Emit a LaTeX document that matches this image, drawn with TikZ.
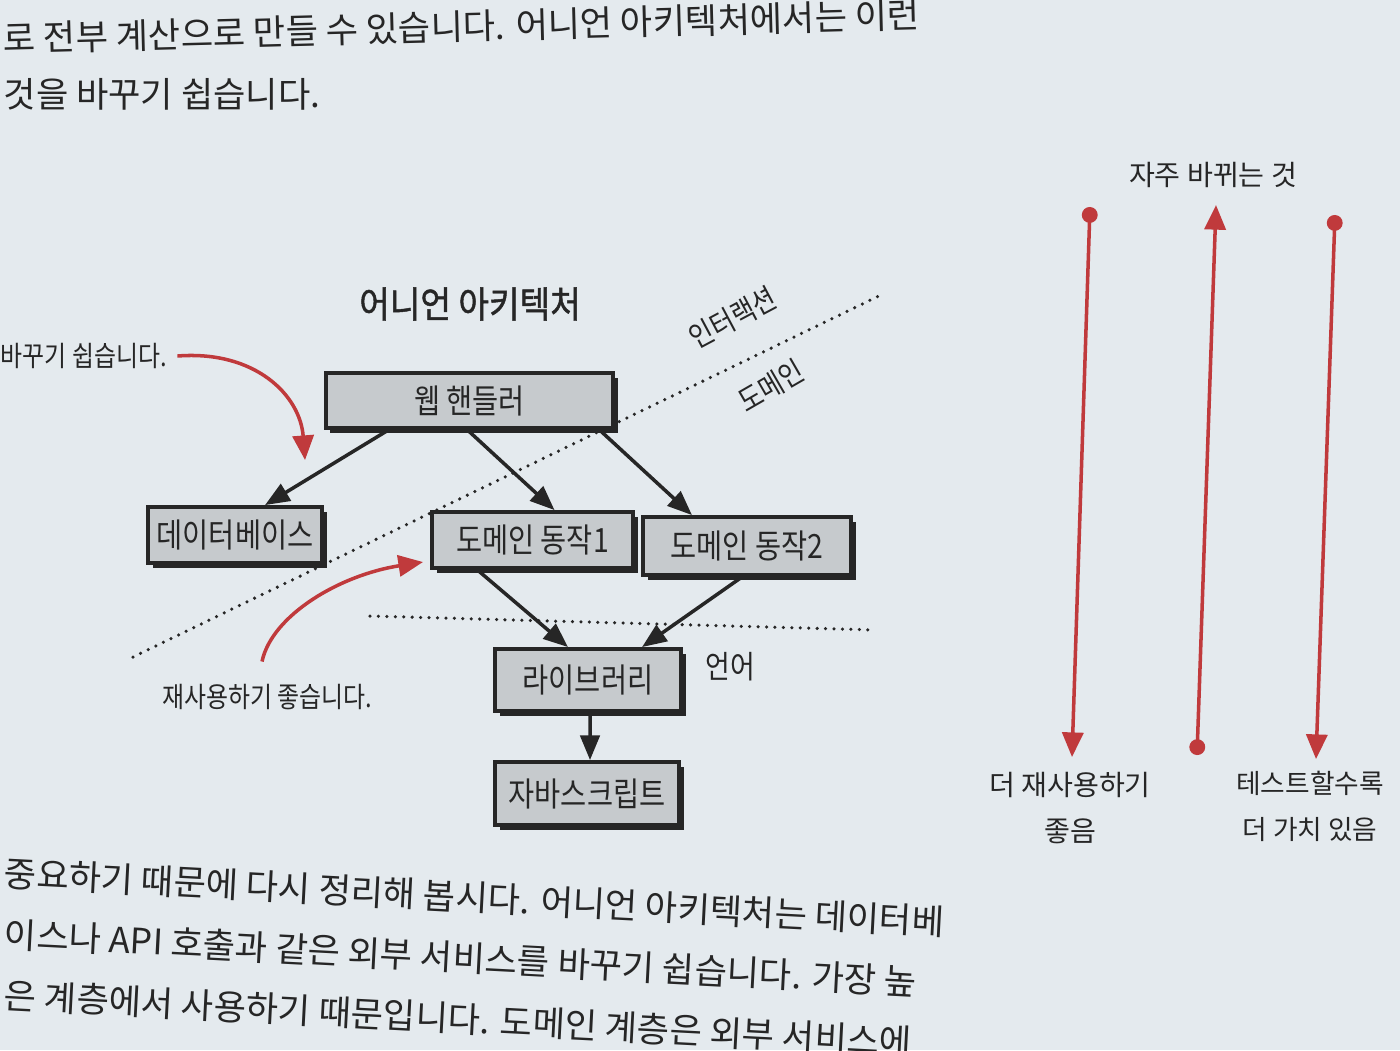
\documentclass[tikz,border=0pt]{standalone}
\usepackage{fontspec}
\setmainfont{Noto Sans CJK KR}
\newfontfamily\condfont[FakeStretch=0.85]{Noto Sans CJK KR}
\newfontfamily\titlefont[FakeStretch=0.9,FakeBold=1.2]{Noto Sans CJK KR}
\usetikzlibrary{arrows.meta,shadows}
\definecolor{paper}{HTML}{E4EAEE}
\definecolor{ink}{HTML}{262626}
\definecolor{boxfill}{HTML}{C6CACD}
\definecolor{redline}{HTML}{C03A3C}
\begin{document}
\begin{tikzpicture}[x=0.01cm,y=-0.01cm,
  bodytext/.style={anchor=base west, inner sep=0pt, text=ink, font=\fontsize{10}{12}\selectfont},
  boxnode/.style={draw=ink, line width=1.1pt, fill=boxfill, inner sep=0pt, text=ink,
    font=\condfont\fontsize{9.5}{11}\selectfont,
    drop shadow={shadow xshift=1.3pt, shadow yshift=-1.3pt, fill=ink, opacity=1}},
  annot/.style={inner sep=0pt, text=ink, font=\condfont\fontsize{8}{10}\selectfont},
  sidetext/.style={inner sep=0pt, text=ink, font=\fontsize{8}{10}\selectfont},
  blackarrow/.style={draw=ink, line width=1pt, -{Triangle[length=7pt,width=5.5pt]}},
  redarrow/.style={draw=redline, line width=1pt},
  dotline/.style={draw=ink, line width=1pt, dash pattern=on 0pt off 2.4pt, line cap=round}
]
\fill[paper] (0,0) rectangle (1400,1050);
\useasboundingbox (0,0) rectangle (1400,1050);

% page body text
\node[bodytext, rotate=1.5] (t1) at (3,52) {로 전부 계산으로 만들 수 있습니다. 어니언 아키텍처에서는 이런};
\node[bodytext] (t2) at (3,107) {것을 바꾸기 쉽습니다.};
\node[bodytext, rotate=-3] (b1) at (3,886) {중요하기 때문에 다시 정리해 봅시다. 어니언 아키텍처는 데이터베};
\node[bodytext, rotate=-3] (b2) at (3,947) {이스나 API 호출과 같은 외부 서비스를 바꾸기 쉽습니다. 가장 높};
\node[bodytext, rotate=-3] (b3) at (3,1008) {은 계층에서 사용하기 때문입니다. 도메인 계층은 외부 서비스에};

% title
\node[inner sep=0pt, text=ink, font=\titlefont\fontsize{10.5}{13}\selectfont] (title) at (470,304) {어니언 아키텍처};

% dotted separators
\coordinate (d1a) at (133,657);
\coordinate (d1b) at (885,293);
\coordinate (d2a) at (370,616);
\coordinate (d2b) at (876,630);
\draw[dotline] (d1a) -- (d1b);
\draw[dotline] (d2a) -- (d2b);

% boxes
\node[boxnode, minimum width=2.87cm, minimum height=0.55cm] (web) at (469.5,400.5) {웹 핸들러};
\node[boxnode, minimum width=1.74cm, minimum height=0.56cm] (db) at (235,535) {데이터베이스};
\node[boxnode, minimum width=2.01cm, minimum height=0.56cm] (dom1) at (532.5,540) {도메인 동작1};
\node[boxnode, minimum width=2.08cm, minimum height=0.58cm] (dom2) at (747,546) {도메인 동작2};
\node[boxnode, minimum width=1.86cm, minimum height=0.62cm] (lib) at (588,680) {라이브러리};
\node[boxnode, minimum width=1.84cm, minimum height=0.63cm] (js) at (587,793.5) {자바스크립트};

% layer labels
\node[annot, rotate=28, font=\condfont\fontsize{8.5}{10}\selectfont] (interaction) at (733,318) {인터랙션};
\node[annot, rotate=30, font=\condfont\fontsize{8.5}{10}\selectfont] (domain) at (771,386) {도메인};
\node[annot, font=\condfont\fontsize{9}{10}\selectfont] (lang) at (730,667) {언어};

% black arrows
\draw[blackarrow] ([xshift=-0.81cm]web.south) -- ([xshift=0.3cm]db.north);
\draw[blackarrow] ([xshift=-0.02cm]web.south) -- ([xshift=0.22cm]dom1.north);
\draw[blackarrow] ([xshift=1.3cm]web.south) -- ([xshift=-0.55cm]dom2.north);
\draw[blackarrow] ([xshift=-0.55cm]dom1.south) -- ([xshift=-0.2cm]lib.north);
\draw[blackarrow] ([xshift=-0.05cm]dom2.south) -- ([xshift=0.54cm]lib.north);
\draw[blackarrow] ([xshift=0.02cm]lib.south) -- ([xshift=0.03cm]js.north);

% left annotations with red curved arrows
\node[annot, anchor=west] (easy) at (0,356) {바꾸기 쉽습니다.};
\node[annot] (reuse) at (267,697) {재사용하기 좋습니다.};
\draw[redarrow, -{Triangle[length=7pt,width=6pt]}] ([xshift=0.1cm]easy.east) .. controls (255,350) and (300,395) .. ([xshift=0.7cm,yshift=0.45cm]db.north);
\draw[redarrow, -{Triangle[length=7pt,width=6pt]}] ([xshift=-0.05cm,yshift=0.22cm]reuse.north) .. controls (272,615) and (340,575) .. ([xshift=-0.07cm,yshift=-0.22cm]dom1.west);

% right side
\node[sidetext] (freq) at (1213,175) {자주 바뀌는 것};
\node[sidetext, align=center] (reusemore) at (1070,808) {더 재사용하기\\[3pt]좋음};
\node[sidetext, align=center, font=\fontsize{7.6}{10}\selectfont] (testmore) at (1310,806) {테스트할수록\\[3pt]더 가치 있음};
\coordinate (r1a) at (1090,207);
\coordinate (r1b) at (1072,757);
\coordinate (r2a) at (1197,755);
\coordinate (r2b) at (1216,205);
\coordinate (r3a) at (1335,215);
\coordinate (r3b) at (1316,759);
\draw[redarrow, {Circle[length=4.5pt]}-{Triangle[length=7pt,width=6pt]}] (r1a) -- (r1b);
\draw[redarrow, {Circle[length=4.5pt]}-{Triangle[length=7pt,width=6pt]}] (r2a) -- (r2b);
\draw[redarrow, {Circle[length=4.5pt]}-{Triangle[length=7pt,width=6pt]}] (r3a) -- (r3b);
\end{tikzpicture}
\end{document}
